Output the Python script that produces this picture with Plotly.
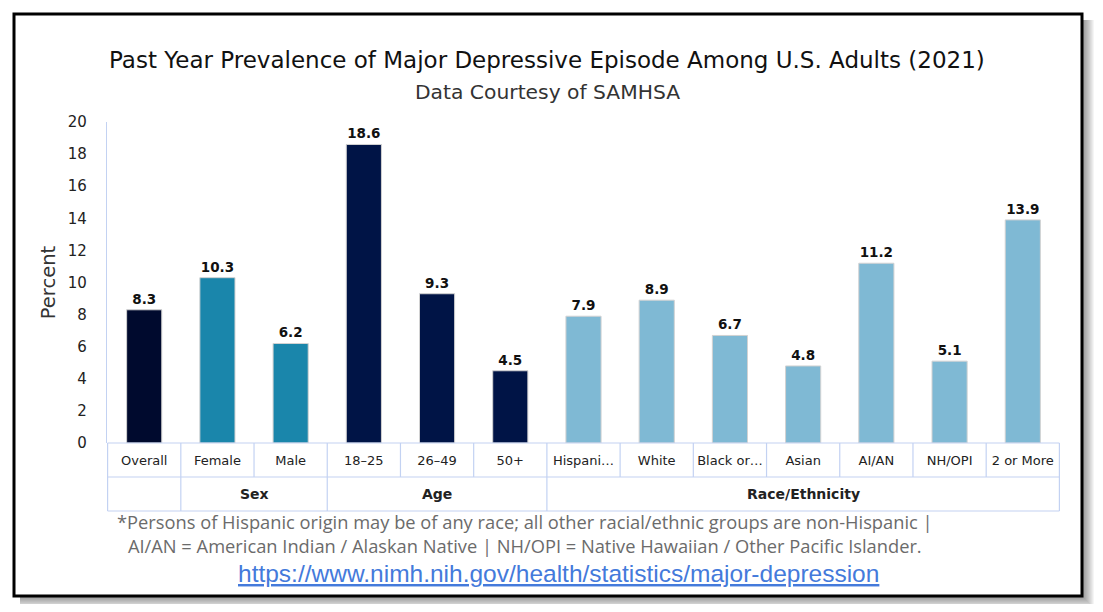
import plotly.graph_objects as go

# data
categories = ["Overall", "Female", "Male", "18–25", "26–49", "50+",
              "Hispani…", "White", "Black or…", "Asian", "AI/AN", "NH/OPI", "2 or More"]
groups = ["", "Sex", "Sex", "Age", "Age", "Age",
          "Race/Ethnicity", "Race/Ethnicity", "Race/Ethnicity", "Race/Ethnicity",
          "Race/Ethnicity", "Race/Ethnicity", "Race/Ethnicity"]
values = [8.3, 10.3, 6.2, 18.6, 9.3, 4.5, 7.9, 8.9, 6.7, 4.8, 11.2, 5.1, 13.9]

group_colors = {"": "#000a2e", "Sex": "#1a86ab", "Age": "#001446", "Race/Ethnicity": "#7fb9d4"}

# page has an 8px body margin, so the figure is a bit smaller than the window
PAD = 8
W, H = 1103 - 2 * PAD, 612 - 2 * PAD
GRID = "#c3d2f2"
SANS = "DejaVu Sans"


def fx(px):
    return (px - PAD) / W


def fy(py):
    return 1 - (py - PAD) / H


fig = go.Figure()
fig.add_trace(go.Bar(
    x=categories, y=values,
    marker=dict(color=[group_colors[g] for g in groups], line=dict(color="#d2d2d2", width=1)),
    width=0.48,
    texttemplate="<b>%{y}</b>", textposition="outside",
    textfont=dict(size=13.5, color="#111", family=SANS),
    cliponaxis=False, showlegend=False,
))

shapes = []
# shadow + frame
for r in range(12, 0, -1):
    shapes.append(dict(type="rect", xref="paper", yref="paper",
                       x0=fx(20), y0=fy(20), x1=fx(1082 + r), y1=fy(596 + r),
                       fillcolor="rgba(0,0,0,0.04)", line=dict(width=0), layer="below"))
shapes.append(dict(type="rect", xref="paper", yref="paper",
                   x0=fx(14), y0=fy(14), x1=fx(1082), y1=fy(596),
                   fillcolor="white", line=dict(color="black", width=3), layer="below"))

# table under the bars
y_base, y_row1, y_row2 = fy(443), fy(477), fy(511)
n = len(categories)
for yy in (y_base, y_row1, y_row2):
    shapes.append(dict(type="line", xref="x", yref="paper", x0=-0.5, x1=n - 0.5,
                       y0=yy, y1=yy, line=dict(color=GRID, width=1.2)))
for i in range(n + 1):
    shapes.append(dict(type="line", xref="x", yref="paper", x0=i - 0.5, x1=i - 0.5,
                       y0=y_base, y1=y_row1, line=dict(color=GRID, width=1.2)))
bounds = [0] + [i for i in range(1, n) if groups[i] != groups[i - 1]] + [n]
for b in bounds:
    shapes.append(dict(type="line", xref="x", yref="paper", x0=b - 0.5, x1=b - 0.5,
                       y0=y_row1, y1=y_row2, line=dict(color=GRID, width=1.2)))

annotations = []
for a, b in zip(bounds[:-1], bounds[1:]):
    if groups[a]:
        annotations.append(dict(xref="x", yref="paper", x=(a + b - 1) / 2, y=fy(494),
                                xanchor="center", yanchor="middle",
                                text="<b>" + groups[a] + "</b>", showarrow=False,
                                font=dict(size=14, color="#222", family=SANS)))

annotations += [
    dict(xref="paper", yref="paper", x=fx(547), y=fy(60),
         text="Past Year Prevalence of Major Depressive Episode Among U.S. Adults (2021)",
         font=dict(size=23, color="#111", family=SANS)),
    dict(xref="paper", yref="paper", x=fx(547), y=fy(92),
         text="Data Courtesy of SAMHSA",
         font=dict(size=20.3, color="#333", family=SANS)),
    dict(xref="paper", yref="paper", x=fx(525), y=fy(533),
         text="*Persons of Hispanic origin may be of any race; all other racial/ethnic groups are non-Hispanic |"
              "<br>AI/AN = American Indian / Alaskan Native | NH/OPI = Native Hawaiian / Other Pacific Islander.",
         font=dict(size=18.3, color="#6b6b6b", family="Open Sans")),
    dict(xref="paper", yref="paper", x=fx(558), y=fy(573),
         text='<a href="https://www.nimh.nih.gov/health/statistics/major-depression">'
              '<u>https://www.nimh.nih.gov/health/statistics/major-depression</u></a>',
         font=dict(size=24.5, color="#0a28d0", family="Liberation Sans")),
]
for ann in annotations[-4:]:
    ann.update(showarrow=False, xanchor="center", yanchor="middle")

fig.update_layout(
    width=W, height=H, margin=dict(l=0, r=0, t=0, b=0, autoexpand=False),
    paper_bgcolor="white", plot_bgcolor="rgba(0,0,0,0)",
    font=dict(family=SANS, color="#222"),
    xaxis=dict(domain=[fx(107), fx(1060)], type="category", showgrid=False, showline=False,
               ticks="", tickfont=dict(size=13, color="#222"), ticklabelstandoff=8,
               tickangle=0, fixedrange=True, automargin=False),
    yaxis=dict(domain=[fy(443), fy(122)], range=[0, 20], dtick=2, showgrid=False,
               zeroline=False, showline=True, linecolor=GRID, linewidth=1.2,
               ticks="", tickfont=dict(size=15, color="#222"), ticklabelstandoff=16,
               automargin=False,
               title=dict(text="Percent", font=dict(size=19.5, color="#333"), standoff=6)),
    shapes=shapes, annotations=annotations,
)

fig.write_html("out.html")
